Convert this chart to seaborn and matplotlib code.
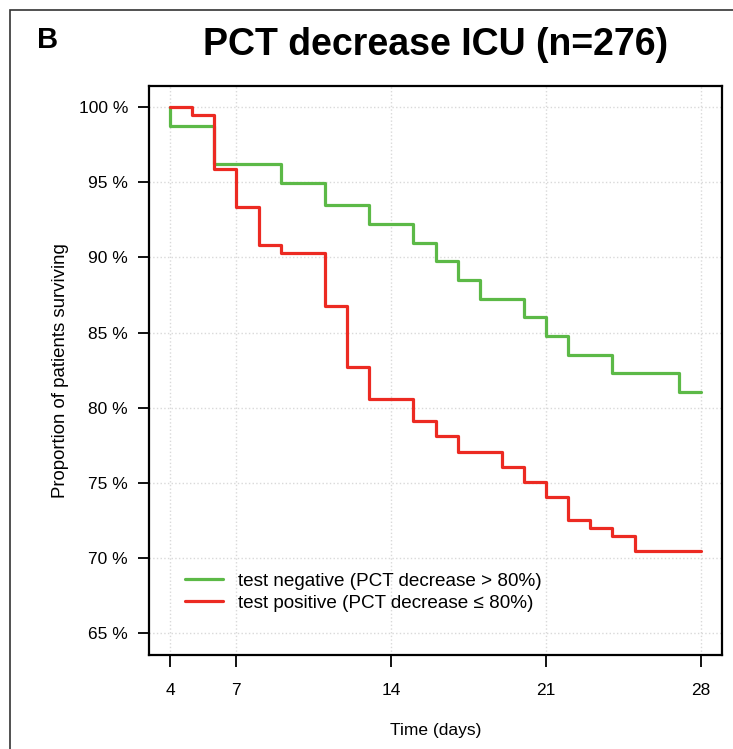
import matplotlib
matplotlib.use("Agg")
import pandas as pd
import seaborn as sns
import matplotlib.pyplot as plt
from matplotlib.patches import Rectangle

# Kaplan-Meier steps (day, % surviving)
NEG_DAYS = [4, 4, 6, 9, 11, 13, 15, 16, 17, 18, 20, 21, 22, 24, 27, 28]
NEG_SURV = [100.0, 98.76, 96.22, 94.93, 93.49, 92.23, 90.99, 89.77, 88.51,
            87.27, 86.04, 84.79, 83.53, 82.32, 81.03, 81.03]

POS_DAYS = [4, 5, 6, 7, 8, 9, 11, 12, 13, 15, 16, 17, 19, 20, 21, 22, 23,
            24, 25, 28]
POS_SURV = [100.0, 99.49, 95.88, 93.38, 90.84, 90.29, 86.79, 82.72, 80.61,
            79.10, 78.10, 77.07, 76.08, 75.06, 74.06, 72.51, 72.03, 71.51,
            70.47, 70.47]

GROUPS = ["test negative (PCT decrease > 80%)",
          "test positive (PCT decrease \u2264 80%)"]
COLORS = ["#5cb947", "#ec2a22"]

X_TICKS = [4, 7, 14, 21, 28]
Y_TICKS = [65, 70, 75, 80, 85, 90, 95, 100]

W, H = 733, 749  # output size in pixels


def build_frame():
    """Stack both survival curves into one long dataframe."""
    neg = pd.DataFrame({"Day": NEG_DAYS, "Surviving": NEG_SURV, "Group": GROUPS[0]})
    pos = pd.DataFrame({"Day": POS_DAYS, "Surviving": POS_SURV, "Group": GROUPS[1]})
    return pd.concat([neg, pos], ignore_index=True)


def plot_km(df):
    sns.set_style("white")
    plt.rcParams["font.family"] = ["Liberation Sans", "DejaVu Sans"]
    plt.rcParams["text.color"] = "black"
    plt.rcParams["axes.labelcolor"] = "black"
    plt.rcParams["xtick.color"] = "black"
    plt.rcParams["ytick.color"] = "black"

    fig = plt.figure(figsize=(W / 100, H / 100), dpi=100)
    # axes box placed where the original R plot region sits
    ax = fig.add_axes([148.8 / W, 1 - 654.5 / H, 573.4 / W, 568.5 / H])

    sns.lineplot(data=df, x="Day", y="Surviving", hue="Group",
                 hue_order=GROUPS, palette=COLORS, estimator=None, sort=False,
                 drawstyle="steps-post", linewidth=2.3, ax=ax)

    ax.set_xlim(3.04, 28.96)
    ax.set_ylim(63.6, 101.4)
    ax.set_xticks(X_TICKS)
    ax.set_yticks(Y_TICKS)
    ax.set_yticklabels([f"{v} %" for v in Y_TICKS])
    ax.tick_params(axis="x", length=8.5, width=1.3, pad=12, labelsize=12.5,
                   direction="out", bottom=True)
    ax.tick_params(axis="y", length=8, width=1.3, pad=7, labelsize=12.5,
                   direction="out", left=True)

    ax.grid(True, color="#d9d9d9", linestyle=":", linewidth=1.0)
    ax.set_axisbelow(True)
    for sp in ax.spines.values():
        sp.set_color("black")
        sp.set_linewidth(1.6)

    ax.set_xlabel("Time (days)", fontsize=12.5)
    ax.set_ylabel("Proportion of patients surviving", fontsize=13.4)
    ax.xaxis.set_label_coords(0.5, -0.12)
    ax.yaxis.set_label_coords(-0.14, 0.5)

    sns.move_legend(ax, "lower left", bbox_to_anchor=(0.063, 0.075),
                    frameon=False, title=None, fontsize=13.6, handlelength=2.0,
                    handletextpad=0.8, labelspacing=0.25, borderpad=0,
                    borderaxespad=0)

    fig.text((148.8 + 573.4 / 2) / W, 1 - 45 / H, "PCT decrease ICU (n=276)",
             fontsize=27, weight="bold", ha="center", va="center")
    fig.text(37 / W, 1 - 40 / H, "B", fontsize=21, weight="bold",
             ha="left", va="center")

    # panel frame, cut off on the right and bottom like the source image
    fig.add_artist(Rectangle((10 / W, -0.1), 1.2, 1 - 10 / H + 0.1,
                             transform=fig.transFigure, fill=False,
                             edgecolor="#333333", linewidth=1.2))

    fig.savefig("out.png", dpi=100)


if __name__ == "__main__":
    data = build_frame()
    plot_km(data)
